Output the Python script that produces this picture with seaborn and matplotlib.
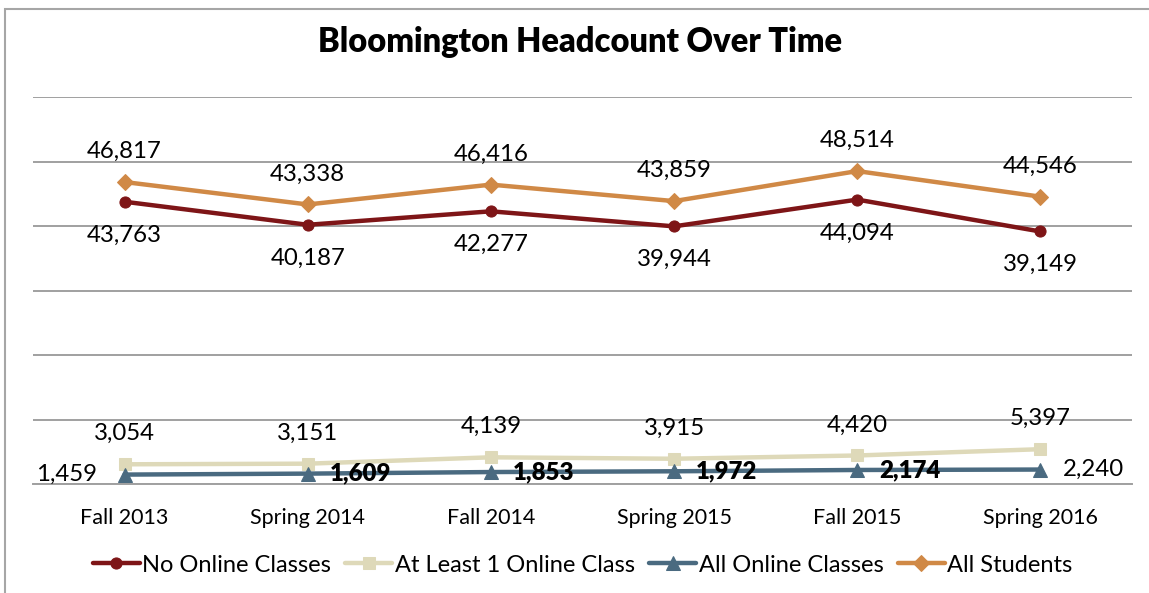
import numpy as np
import pandas as pd
import matplotlib.pyplot as plt
import seaborn as sns
from matplotlib.patches import Rectangle

# Data
terms = ["Fall 2013", "Spring 2014", "Fall 2014", "Spring 2015", "Fall 2015", "Spring 2016"]
no_online = [43763, 40187, 42277, 39944, 44094, 39149]
at_least_one = [3054, 3151, 4139, 3915, 4420, 5397]
all_online = [1459, 1609, 1853, 1972, 2174, 2240]
all_students = [46817, 43338, 46416, 43859, 48514, 44546]

series_names = ["No Online Classes", "At Least 1 Online Class", "All Online Classes", "All Students"]

df = pd.DataFrame({
    "term": terms * 4,
    "series": np.repeat(series_names, len(terms)),
    "headcount": no_online + at_least_one + all_online + all_students,
})

sns.set_style("white")
plt.rcParams["font.family"] = ["Lato", "DejaVu Sans"]
plt.rcParams["text.color"] = "black"
plt.rcParams["xtick.color"] = "black"

colors = {
    "No Online Classes": "#7e1517",
    "At Least 1 Online Class": "#ded9b9",
    "All Online Classes": "#4a6a80",
    "All Students": "#d08946",
}
markers = {
    "No Online Classes": ("o", 8),
    "At Least 1 Online Class": ("s", 9),
    "All Online Classes": ("^", 10.5),
    "All Students": ("D", 8),
}

fig = plt.figure(figsize=(11.49, 5.93), dpi=100)
ax = fig.add_axes([33 / 1149, 1 - 484 / 593, (1132 - 33) / 1149, (484 - 97) / 593])

for name in series_names:
    sub = df[df["series"] == name]
    m, ms = markers[name]
    sns.lineplot(
        data=sub, x="term", y="headcount", ax=ax,
        color=colors[name], linewidth=3.2, marker=m, markersize=ms,
        markeredgecolor=colors[name], label=name,
    )

ax.set_xlim(-0.5, len(terms) - 0.5)
ax.set_ylim(0, 60000)
ax.set_yticks(np.arange(0, 60001, 10000))
ax.set_yticklabels([])
ax.tick_params(axis="y", length=0)
ax.tick_params(axis="x", length=0, labelsize=15.5, pad=17, labelcolor="black")
ax.set_xlabel("")
ax.set_ylabel("")
ax.grid(axis="y", color="#a0a0a0", linewidth=1.4)
ax.set_axisbelow(True)
for s in ["top", "right", "left"]:
    ax.spines[s].set_visible(False)
ax.spines["bottom"].set_color("#a0a0a0")
ax.spines["bottom"].set_linewidth(1.4)

# data labels
lab_size = 17.3
for i, v in enumerate(all_students):
    ax.annotate(f"{v:,}", (i, v), xytext=(0, 22), textcoords="offset points",
                ha="center", va="center", fontsize=lab_size)
for i, v in enumerate(no_online):
    ax.annotate(f"{v:,}", (i, v), xytext=(0, -24), textcoords="offset points",
                ha="center", va="center", fontsize=lab_size)
for i, v in enumerate(at_least_one):
    ax.annotate(f"{v:,}", (i, v), xytext=(0, 22), textcoords="offset points",
                ha="center", va="center", fontsize=lab_size)
for i, v in enumerate(all_online):
    if i == 0:
        ax.annotate(f"{v:,}", (i, v), xytext=(-20, 0), textcoords="offset points",
                    ha="right", va="center", fontsize=lab_size)
    else:
        w = "normal" if i == len(all_online) - 1 else "heavy"
        ax.annotate(f"{v:,}", (i, v), xytext=(16, 0), textcoords="offset points",
                    ha="left", va="center", fontsize=lab_size, fontweight=w)

fig.suptitle("Bloomington Headcount Over Time", x=0.505, y=1 - 42 / 593,
             va="center", fontsize=23.5, fontweight="heavy")

ax.legend(loc="center", bbox_to_anchor=(0.5, (484 - 565) / (484 - 97)),
          ncol=4, frameon=False, fontsize=17.0, handlelength=2.0,
          handletextpad=0.1, columnspacing=0.6)

# outer chart border
fig.patches.append(Rectangle((5 / 1149, -0.05), 1.2, 1 - 9 / 593 + 0.05,
                             transform=fig.transFigure, fill=False,
                             edgecolor="#a6a6a6", linewidth=1.5))

fig.savefig("out.png", dpi=100)
